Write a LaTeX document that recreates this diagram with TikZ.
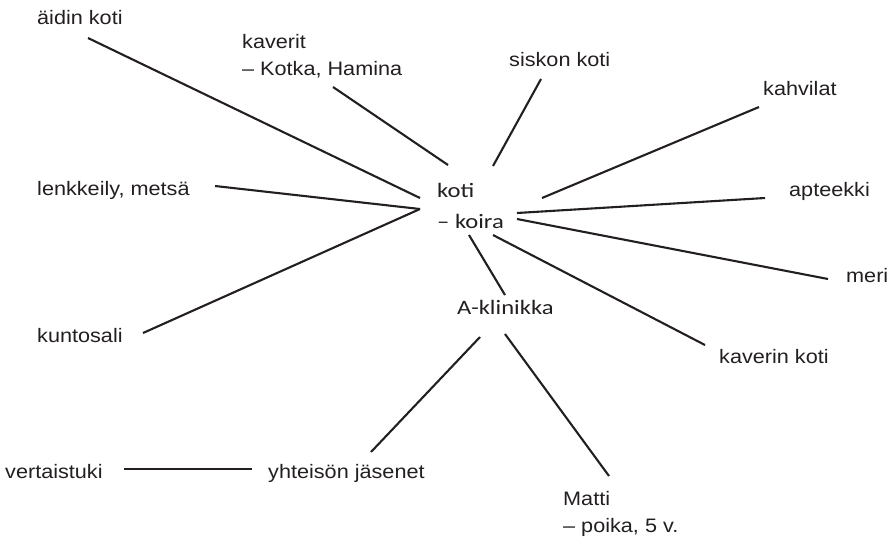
\documentclass[tikz,border=0pt]{standalone}
\usepackage{fontspec}
\setmainfont[FakeStretch=1.11]{Liberation Sans}
\newfontfamily\hubfont[FakeStretch=1.2]{Carlito}
\definecolor{ink}{RGB}{35,31,32}
\begin{document}
\begin{tikzpicture}[x=1pt,y=-1pt,
  lbl/.style={anchor=base west,inner sep=0pt,text=ink,font=\fontsize{19.5}{27}\selectfont,align=left},
  hub/.style={anchor=base west,inner sep=0pt,text=ink,font=\hubfont\fontsize{20.5}{31}\selectfont,align=left},
  link/.style={draw=ink,line width=2.1pt}]
\useasboundingbox (0,0) rectangle (893,542);

% labels (multi-line nodes sit on the baseline of their last line)
\node[lbl] (aiti) at (37,24) {äidin koti};
\node[lbl] (kaverit) at (242,75) {kaverit\\– Kotka, Hamina};
\node[lbl] (sisko) at (509,66) {siskon koti};
\node[lbl] (kahvi) at (763,95) {kahvilat};
\node[lbl] (lenkki) at (37,195) {lenkkeily, metsä};
\node[lbl] (apteekki) at (789,196) {apteekki};
\node[lbl] (meri) at (846,282) {meri};
\node[lbl] (kaverin) at (719,363) {kaverin koti};
\node[lbl] (kunto) at (37,342) {kuntosali};
\node[lbl] (vertais) at (5,478) {vertaistuki};
\node[lbl] (yhteiso) at (268,478) {yhteisön jäsenet};
\node[lbl] (matti) at (563,532) {Matti\\– poika, 5 v.};
\node[hub] (koti) at (437,228) {koti\\– koira};
\node[hub] (aklin) at (457,314) {A-klinikka};

% connector ends
\coordinate (aiti-e) at (88,38);
\coordinate (kaverit-e) at (333,87);
\coordinate (sisko-e) at (541,79);
\coordinate (kahvi-e) at (759,107);
\coordinate (lenkki-e) at (215,186);
\coordinate (apteekki-e) at (765,198);
\coordinate (meri-e) at (828,279);
\coordinate (kaverin-e) at (705,345);
\coordinate (kunto-e) at (143,333);
\coordinate (vertais-e) at (124,469);
\coordinate (yhteiso-e) at (252,469);
\coordinate (yhteiso-n) at (371,452);
\coordinate (matti-n) at (609,476);
\coordinate (aklin-nw) at (505,295);
\coordinate (aklin-sw) at (480,337);
\coordinate (aklin-se) at (505,334);
\coordinate (koti-wa) at (420,198);
\coordinate (koti-wb) at (420,209);
\coordinate (koti-nw) at (448,165);
\coordinate (koti-n) at (493,166);
\coordinate (koti-ne) at (542,198);
\coordinate (koti-ea) at (517,213);
\coordinate (koti-eb) at (517,219);
\coordinate (koti-se) at (493,235);
\coordinate (koti-s) at (469,235);

% connectors
\draw[link] (aiti-e) -- (koti-wa);
\draw[link] (kaverit-e) -- (koti-nw);
\draw[link] (sisko-e) -- (koti-n);
\draw[link] (kahvi-e) -- (koti-ne);
\draw[link] (lenkki-e) -- (koti-wb);
\draw[link] (kunto-e) -- (koti-wb);
\draw[link] (apteekki-e) -- (koti-ea);
\draw[link] (meri-e) -- (koti-eb);
\draw[link] (kaverin-e) -- (koti-se);
\draw[link] (koti-s) -- (aklin-nw);
\draw[link] (aklin-sw) -- (yhteiso-n);
\draw[link] (aklin-se) -- (matti-n);
\draw[link] (vertais-e) -- (yhteiso-e);
\end{tikzpicture}
\end{document}
